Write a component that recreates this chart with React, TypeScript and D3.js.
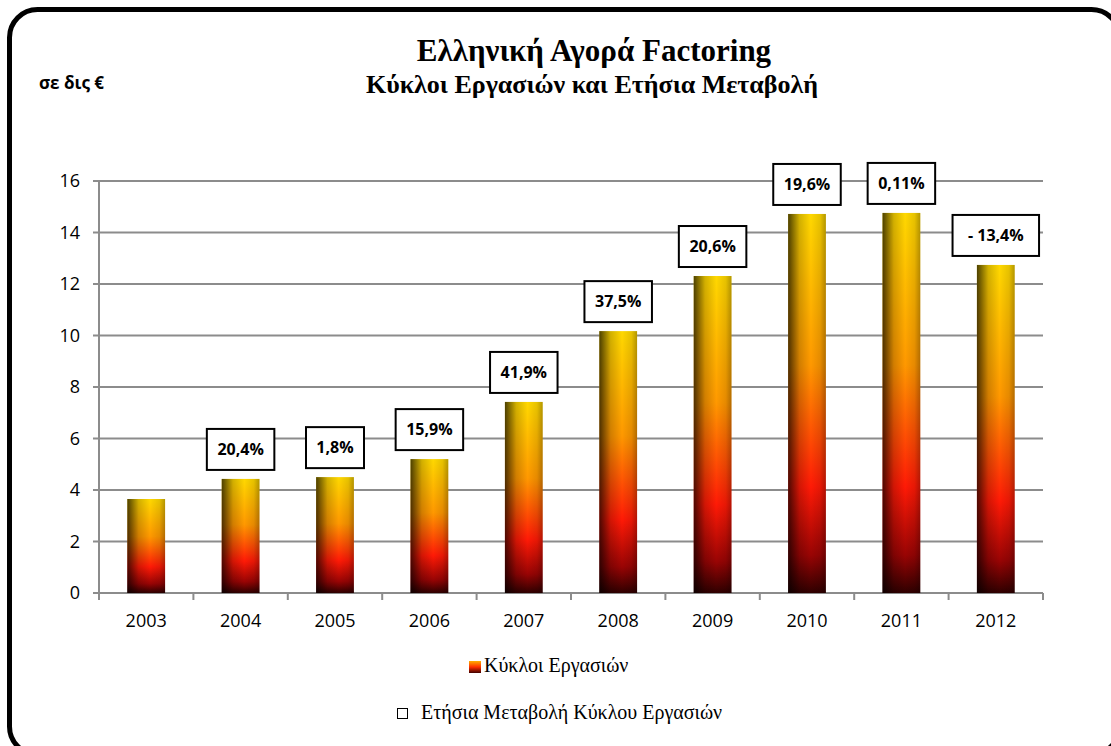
import * as d3 from 'd3';
import React from 'react';

// Κύκλοι Εργασιών (δις €) per year
const years = ['2003', '2004', '2005', '2006', '2007', '2008', '2009', '2010', '2011', '2012'];
const turnover = [3.65, 4.43, 4.5, 5.2, 7.42, 10.17, 12.31, 14.72, 14.76, 12.74];
// Ετήσια Μεταβολή labels ('' = no label)
const changeLabels = ['', '20,4%', '1,8%', '15,9%', '41,9%', '37,5%', '20,6%', '19,6%', '0,11%', '- 13,4%'];
const yTicks = [0, 2, 4, 6, 8, 10, 12, 14, 16];

const W = 1111;
const H = 746;
const margin = { top: 181, right: 68, bottom: 153, left: 99 };

const sans = "'Open Sans', 'Liberation Sans', sans-serif";
const serif = "'Liberation Serif', 'DejaVu Serif', serif";

export default function App() {
  const x = d3
    .scaleBand<string>()
    .domain(years)
    .range([margin.left, W - margin.right])
    .padding(0);
  const y = d3
    .scaleLinear()
    .domain([0, 16])
    .range([H - margin.bottom, margin.top]);

  const barW = x.bandwidth() * 0.4;
  const x0 = margin.left;
  const x1 = W - margin.right;
  const y0 = y(0);

  return (
    <svg
      width={W}
      height={H}
      style={{ position: 'absolute', left: 0, top: 0, background: '#fff' }}
    >
      <defs>
        <linearGradient id="barV" x1="0" y1="0" x2="0" y2="1">
          <stop offset="0" stopColor="#ffd800" />
          <stop offset="0.4" stopColor="#ff9800" />
          <stop offset="0.72" stopColor="#ff1a06" />
          <stop offset="0.9" stopColor="#9a0404" />
          <stop offset="1" stopColor="#300000" />
        </linearGradient>
        <linearGradient id="barH" x1="0" y1="0" x2="1" y2="0">
          <stop offset="0" stopColor="#000" stopOpacity="0.7" />
          <stop offset="0.3" stopColor="#000" stopOpacity="0.18" />
          <stop offset="0.6" stopColor="#000" stopOpacity="0" />
          <stop offset="0.85" stopColor="#000" stopOpacity="0.1" />
          <stop offset="1" stopColor="#000" stopOpacity="0.3" />
        </linearGradient>
        <linearGradient id="legV" x1="0" y1="0" x2="0" y2="1">
          <stop offset="0" stopColor="#ffb000" />
          <stop offset="0.5" stopColor="#ff3000" />
          <stop offset="1" stopColor="#400000" />
        </linearGradient>
      </defs>

      {/* outer frame */}
      <rect
        x={9.5}
        y={9.5}
        width={1110}
        height={745}
        rx={28}
        ry={28}
        fill="none"
        stroke="#000"
        strokeWidth={5}
      />

      {/* titles */}
      <text x={594} y={61} textAnchor="middle" fontFamily={serif} fontWeight="bold" fontSize={31}>
        Ελληνική Αγορά Factoring
      </text>
      <text x={592} y={93} textAnchor="middle" fontFamily={serif} fontWeight="bold" fontSize={26}>
        Κύκλοι Εργασιών και Ετήσια Μεταβολή
      </text>
      <text x={39} y={89} fontFamily={sans} fontWeight="bold" fontSize={17}>
        σε δις €
      </text>

      {/* gridlines + y axis */}
      {yTicks.map((t) => (
        <g key={t}>
          <line x1={x0 - 6} x2={x1} y1={y(t)} y2={y(t)} stroke="#8c8c8c" strokeWidth={2} />
          <text
            x={80}
            y={y(t)}
            dy="0.36em"
            textAnchor="end"
            fontFamily={sans}
            fontSize={18}
            fill="#000"
          >
            {t}
          </text>
        </g>
      ))}
      <line x1={x0} x2={x0} y1={y(16)} y2={y0 + 1} stroke="#8c8c8c" strokeWidth={2} />

      {/* x axis ticks */}
      {years.concat(['end']).map((yr, i) => {
        const xp = i < years.length ? (x(yr) as number) : x1;
        return <line key={'t' + i} x1={xp} x2={xp} y1={y0} y2={y0 + 7} stroke="#8c8c8c" strokeWidth={2} />;
      })}
      {years.map((yr) => (
        <text
          key={'l' + yr}
          x={(x(yr) as number) + x.bandwidth() / 2}
          y={627}
          textAnchor="middle"
          fontFamily={sans}
          fontSize={18}
        >
          {yr}
        </text>
      ))}

      {/* bars */}
      {years.map((yr, i) => {
        const bx = (x(yr) as number) + (x.bandwidth() - barW) / 2;
        const by = y(turnover[i]);
        return (
          <g key={'b' + yr}>
            <rect x={bx} y={by} width={barW} height={y0 - by} fill="url(#barV)" />
            <rect x={bx} y={by} width={barW} height={y0 - by} fill="url(#barH)" />
          </g>
        );
      })}

      {/* change labels */}
      {years.map((yr, i) => {
        const lab = changeLabels[i];
        if (!lab) return null;
        const cx = (x(yr) as number) + x.bandwidth() / 2;
        const bw = lab.length * 9.5 + 20;
        const bh = 41;
        const bottom = y(turnover[i]) - 9;
        return (
          <g key={'c' + yr}>
            <rect
              x={cx - bw / 2}
              y={bottom - bh}
              width={bw}
              height={bh}
              fill="#fff"
              stroke="#000"
              strokeWidth={2}
            />
            <text
              x={cx}
              y={bottom - bh / 2}
              dy="0.36em"
              textAnchor="middle"
              fontFamily={sans}
              fontWeight="bold"
              fontSize={16}
            >
              {lab}
            </text>
          </g>
        );
      })}

      {/* legend */}
      <rect x={469} y={661} width={12} height={12} fill="url(#legV)" />
      <text x={484} y={672} fontFamily={serif} fontSize={20}>
        Κύκλοι Εργασιών
      </text>
      <rect x={397.5} y={708.5} width={10} height={10} fill="none" stroke="#000" strokeWidth={1} />
      <text x={421} y={719} fontFamily={serif} fontSize={20}>
        Ετήσια Μεταβολή Κύκλου Εργασιών
      </text>
    </svg>
  );
}
